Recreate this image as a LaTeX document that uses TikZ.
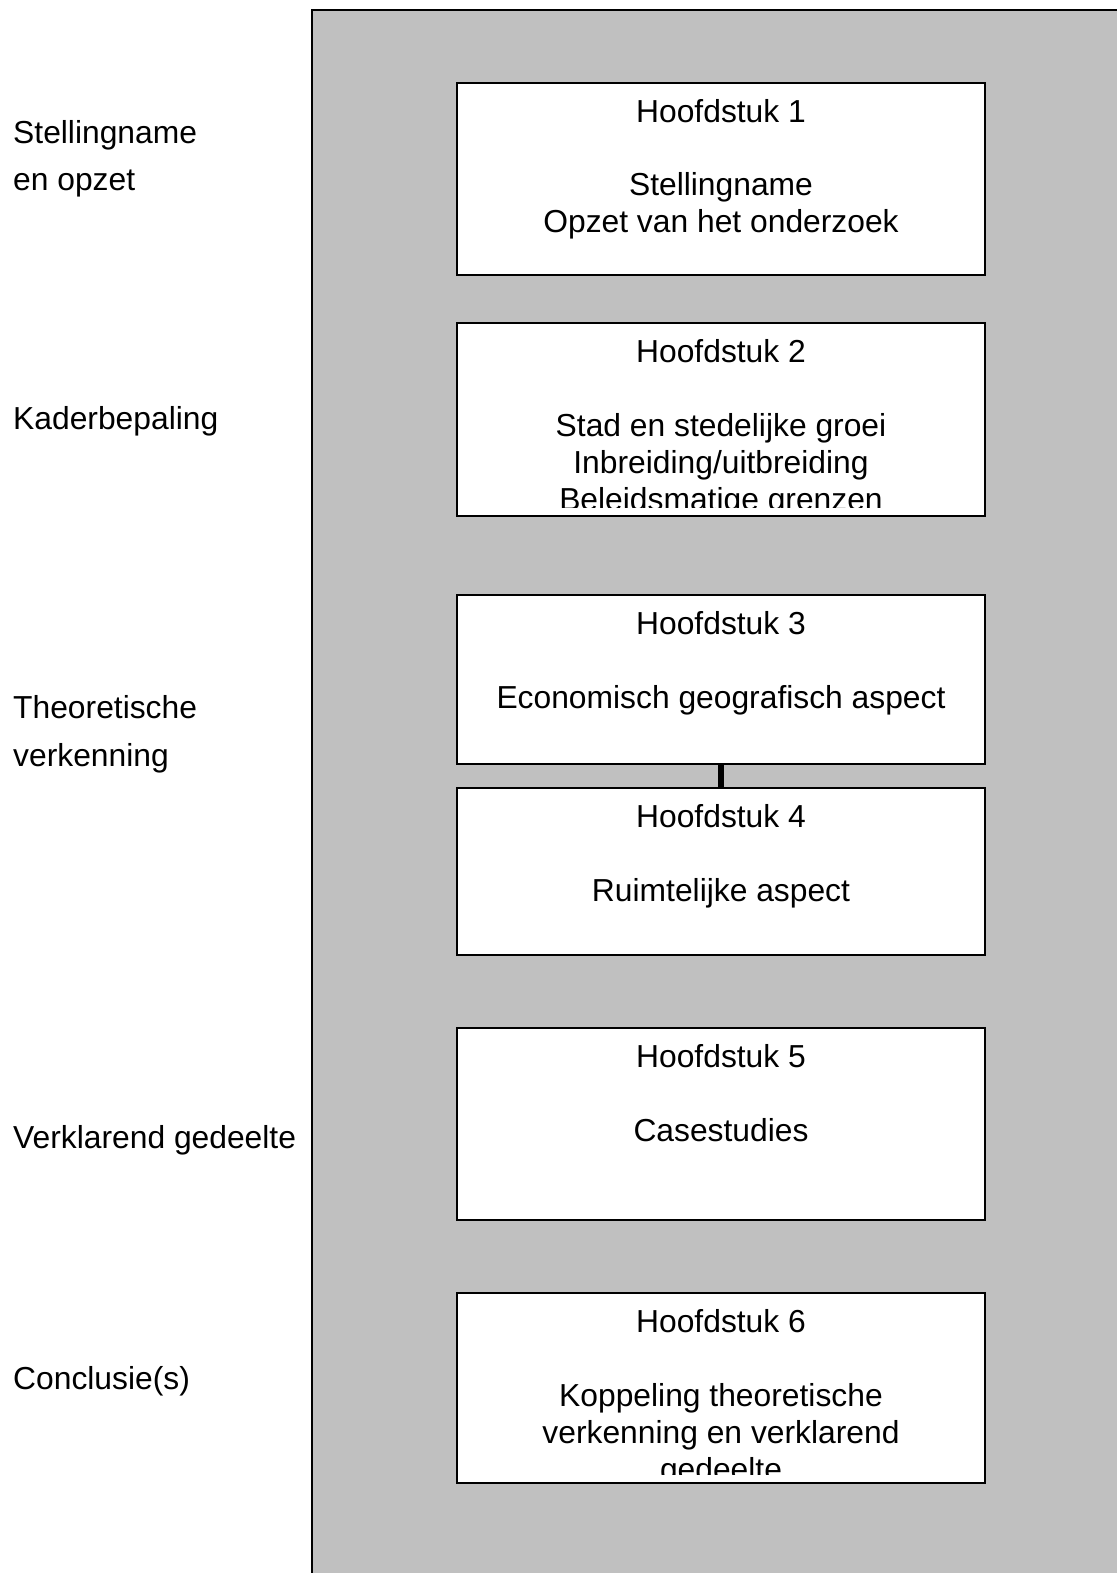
\documentclass[tikz,border=0pt]{standalone}
\usepackage{fontspec}
\setmainfont{Liberation Sans}
\definecolor{panelgrijs}{RGB}{192,192,192}
\begin{document}
\begin{tikzpicture}[x=1pt,y=-1pt,
    hoofdstuk/.style={draw, fill=white, line width=2pt, minimum width=528pt, inner sep=0pt, anchor=north west},
    inhoud/.style={align=center, anchor=base, inner sep=0pt, font=\fontsize{31.8}{37}\selectfont},
    fase/.style={align=left, anchor=base west, inner sep=0pt, font=\fontsize{31.8}{47.5}\selectfont}]
        \useasboundingbox (0,0) rectangle (1116,1573);
        %%%%%%%%%% Achtergrond %%%%%%%%%%
        \draw[line width=2pt, fill=panelgrijs] (312,10) rectangle (1130,1590);

        %%%%%%%%%% Fasen %%%%%%%%%%
        \node[fase] (F1) at (13,191) {Stellingname\\en opzet};
        \node[fase] (F2) at (13,429.5) {Kaderbepaling};
        \node[fase] (F3) at (13,766) {Theoretische\\verkenning};
        \node[fase] (F4) at (13,1148) {Verklarend gedeelte};
        \node[fase] (F5) at (13,1389) {Conclusie(s)};

        %%%%%%%%%% Hoofdstukken %%%%%%%%%%
        \node[hoofdstuk, minimum height=192pt] (H1) at (456,82) {};
        \node[hoofdstuk, minimum height=193pt] (H2) at (456,322) {};
        \node[hoofdstuk, minimum height=169pt] (H3) at (456,594) {};
        \node[hoofdstuk, minimum height=167pt] (H4) at (456,787) {};
        \node[hoofdstuk, minimum height=192pt] (H5) at (456,1027) {};
        \node[hoofdstuk, minimum height=190pt] (H6) at (456,1292) {};

        %%%%%%%%%% Verbinding %%%%%%%%%%
        \draw[line width=6pt] (H3.south) -- (H4.north);

        %%%%%%%%%% Teksten %%%%%%%%%%
        \node[inhoud] (T1) at ([yshift=-151pt]H1.north) {Hoofdstuk 1\\[37pt]Stellingname\\Opzet van het onderzoek};
        \begin{scope}
            \clip (H2.north west) rectangle ([yshift=10pt]H2.south east);
            \node[inhoud] (T2) at ([yshift=-188pt]H2.north) {Hoofdstuk 2\\[37pt]Stad en stedelijke groei\\Inbreiding/uitbreiding\\Beleidsmatige grenzen};
        \end{scope}
        \node[inhoud] (T3) at ([yshift=-114pt]H3.north) {Hoofdstuk 3\\[37pt]Economisch geografisch aspect};
        \node[inhoud] (T4) at ([yshift=-114pt]H4.north) {Hoofdstuk 4\\[37pt]Ruimtelijke aspect};
        \node[inhoud] (T5) at ([yshift=-114pt]H5.north) {Hoofdstuk 5\\[37pt]Casestudies};
        \begin{scope}
            \clip (H6.north west) rectangle ([yshift=10pt]H6.south east);
            \node[inhoud] (T6) at ([yshift=-188pt]H6.north) {Hoofdstuk 6\\[37pt]Koppeling theoretische\\verkenning en verklarend\\gedeelte};
        \end{scope}
\end{tikzpicture}
\end{document}
